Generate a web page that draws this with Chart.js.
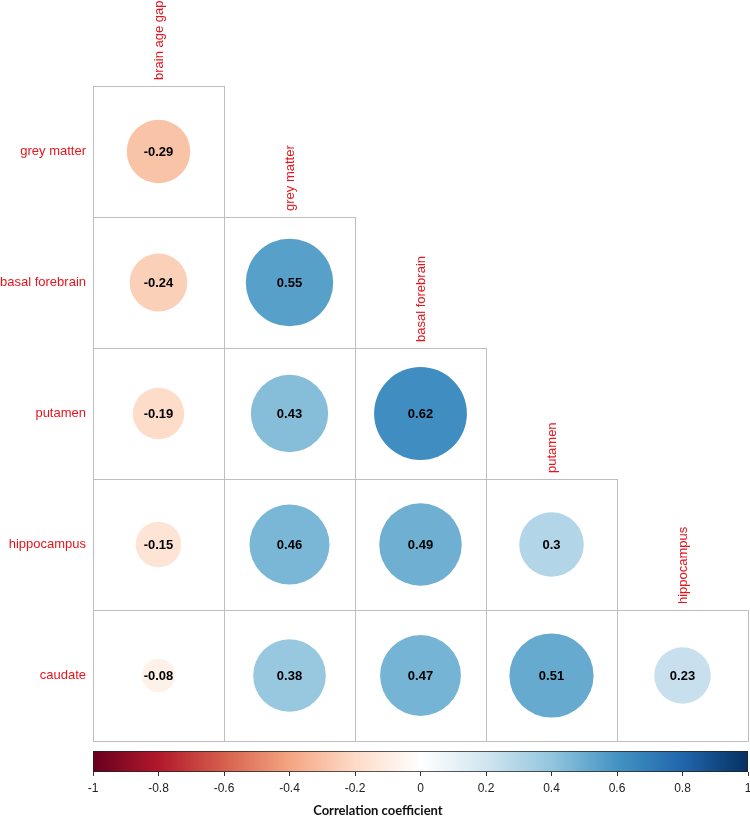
<!DOCTYPE html>
<html>
<head>
<meta charset="utf-8">
<script src="https://cdn.jsdelivr.net/npm/chart.js@4.4.1/dist/chart.umd.min.js"></script>
<style>
  html, body { margin: 0; padding: 0; background: #fff; overflow: hidden; }
  #wrap { position: relative; width: 750px; height: 817px; overflow: hidden; }
  #corrChart { position: absolute; left: 0; top: 0; }
  #legendChart { position: absolute; left: 0; top: 745px; }
</style>
</head>
<body>
<div id="wrap">
  <canvas id="corrChart" width="750" height="745"></canvas>
  <canvas id="legendChart" width="750" height="76"></canvas>
</div>
<script>
// variables (rows / columns of the lower triangle)
const rowLabels = ['grey matter', 'basal forebrain', 'putamen', 'hippocampus', 'caudate'];
const colLabels = ['brain age gap', 'grey matter', 'basal forebrain', 'putamen', 'hippocampus'];

// correlation coefficients, one array per row
const greyMatterR = [-0.29];
const basalForebrainR = [-0.24, 0.55];
const putamenR = [-0.19, 0.43, 0.62];
const hippocampusR = [-0.15, 0.46, 0.49, 0.3];
const caudateR = [-0.08, 0.38, 0.47, 0.51, 0.23];
const corrRows = [greyMatterR, basalForebrainR, putamenR, hippocampusR, caudateR];

// colour bar
const colorbarTicks = [-1, -0.8, -0.6, -0.4, -0.2, 0, 0.2, 0.4, 0.6, 0.8, 1];
const colorbarTitle = 'Correlation coefficient';
const rdbu = ['#67001F', '#B2182B', '#D6604D', '#F4A582', '#FDDBC7', '#FFFFFF',
              '#D1E5F0', '#92C5DE', '#4393C3', '#2166AC', '#053061'];

function hexToRgb(h) {
    return [parseInt(h.slice(1, 3), 16), parseInt(h.slice(3, 5), 16), parseInt(h.slice(5, 7), 16)];
}
function corrColor(v) {
    const t = (v + 1) / 2 * (rdbu.length - 1);
    const i = Math.min(Math.floor(t), rdbu.length - 2);
    const f = t - i;
    const a = hexToRgb(rdbu[i]), b = hexToRgb(rdbu[i + 1]);
    const c = a.map((x, k) => Math.round(x + (b[k] - x) * f));
    return `rgb(${c[0]},${c[1]},${c[2]})`;
}

// points for the scatter
const points = [];
corrRows.forEach((row, i) => {
    row.forEach((v, j) => points.push({ x: j + 1, y: i + 1, v: v }));
});

function cellSize(chart) {
    const xs = chart.scales.x;
    return xs.getPixelForValue(1) - xs.getPixelForValue(0);
}

// grid cells + labels
const corrDecor = {
    id: 'corrDecor',
    beforeDatasetsDraw(chart) {
        const { ctx, scales: { x, y } } = chart;
        ctx.save();
        ctx.strokeStyle = '#BEBEBE';
        ctx.lineWidth = 1;
        corrRows.forEach((row, i) => {
            row.forEach((v, j) => {
                const x0 = Math.round(x.getPixelForValue(j + 0.5)) + 0.5;
                const x1 = Math.round(x.getPixelForValue(j + 1.5)) + 0.5;
                const y0 = Math.round(y.getPixelForValue(i + 0.5)) + 0.5;
                const y1 = Math.round(y.getPixelForValue(i + 1.5)) + 0.5;
                ctx.strokeRect(x0, y0, x1 - x0, y1 - y0);
            });
        });
        ctx.restore();
    },
    afterDatasetsDraw(chart) {
        const { ctx, scales: { x, y } } = chart;
        ctx.save();
        // coefficients
        ctx.fillStyle = '#000';
        ctx.font = 'bold 13px "Liberation Sans", Arial, sans-serif';
        ctx.textAlign = 'center';
        ctx.textBaseline = 'middle';
        const meta = chart.getDatasetMeta(0);
        meta.data.forEach((el, k) => {
            ctx.fillText(String(points[k].v), el.x, el.y + 1);
        });
        // row labels
        ctx.fillStyle = '#E8141C';
        ctx.font = '13px "Liberation Sans", Arial, sans-serif';
        ctx.textAlign = 'right';
        rowLabels.forEach((lab, i) => {
            ctx.fillText(lab, x.getPixelForValue(0.5) - 7, y.getPixelForValue(i + 1));
        });
        // column labels, rotated above the top cell of each column
        ctx.textAlign = 'left';
        colLabels.forEach((lab, j) => {
            ctx.save();
            ctx.translate(x.getPixelForValue(j + 1) + 1, y.getPixelForValue(j + 0.5) - 6);
            ctx.rotate(-Math.PI / 2);
            ctx.fillText(lab, 0, 0);
            ctx.restore();
        });
        ctx.restore();
    }
};

new Chart(document.getElementById('corrChart'), {
    type: 'scatter',
    data: {
        datasets: [{
            data: points,
            pointRadius: ctx => cellSize(ctx.chart) * 0.45 * Math.sqrt(Math.abs(ctx.raw.v)),
            pointBackgroundColor: ctx => corrColor(ctx.raw.v),
            pointBorderWidth: 0,
            pointBorderColor: 'rgba(0,0,0,0)'
        }]
    },
    options: {
        responsive: false,
        animation: false,
        events: [],
        layout: { padding: { left: 93, right: 2, top: 86, bottom: 4 } },
        plugins: { legend: { display: false }, tooltip: { enabled: false } },
        scales: {
            x: { type: 'linear', min: 0.5, max: 5.5, display: false },
            y: { type: 'linear', min: 0.5, max: 5.5, reverse: true, display: false }
        }
    },
    plugins: [corrDecor]
});

// colour bar title (sits a bit left of the bar centre, as in the original)
const barTitle = {
    id: 'barTitle',
    afterDraw(chart) {
        const { ctx, scales: { x } } = chart;
        ctx.save();
        ctx.fillStyle = '#111';
        ctx.font = 'bold 13px Lato, "Open Sans", sans-serif';
        ctx.textAlign = 'center';
        ctx.textBaseline = 'middle';
        ctx.fillText(colorbarTitle, x.getPixelForValue(-0.13), 66);
        ctx.restore();
    }
};

// colour legend
new Chart(document.getElementById('legendChart'), {
    type: 'bar',
    data: {
        labels: ['r'],
        datasets: [{
            data: [[-1, 1]],
            backgroundColor: ctx => {
                const { chart } = ctx;
                if (!chart.chartArea) return null;
                const xs = chart.scales.x;
                const g = chart.ctx.createLinearGradient(xs.getPixelForValue(-1), 0, xs.getPixelForValue(1), 0);
                rdbu.forEach((c, k) => g.addColorStop(k / (rdbu.length - 1), c));
                return g;
            },
            borderColor: '#222',
            borderWidth: 1,
            borderSkipped: false,
            barPercentage: 1,
            categoryPercentage: 1
        }]
    },
    options: {
        indexAxis: 'y',
        responsive: false,
        animation: false,
        events: [],
        layout: { padding: { left: 93, right: 2, top: 6, bottom: 0 } },
        plugins: { legend: { display: false }, tooltip: { enabled: false } },
        scales: {
            y: { display: false },
            x: {
                type: 'linear', min: -1, max: 1,
                afterBuildTicks: s => { s.ticks = colorbarTicks.map(v => ({ value: v })); },
                afterFit: s => { s.height = 49; s.paddingLeft = 0; s.paddingRight = 0; },
                grid: { drawOnChartArea: false, drawTicks: true, tickLength: 4, color: '#333' },
                border: { display: false },
                ticks: {
                    autoSkip: false, maxRotation: 0, padding: 5, color: '#222',
                    font: { family: '"Liberation Sans Narrow", "Liberation Sans", sans-serif', size: 12 },
                    callback: v => String(v)
                },
                title: { display: false }
            }
        }
    },
    plugins: [barTitle]
});
</script>
</body>
</html>
